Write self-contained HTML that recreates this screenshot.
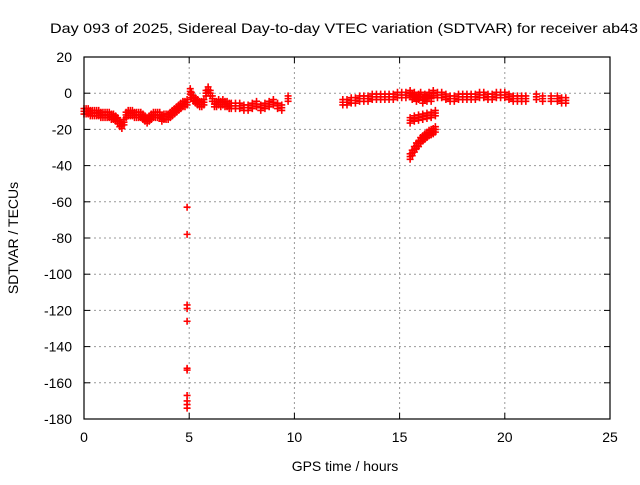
<!DOCTYPE html>
<html><head><meta charset="utf-8"><style>
body{margin:0;background:#fff;width:640px;height:480px;overflow:hidden}
svg text{font-family:"Liberation Sans",sans-serif;font-size:14px;fill:#000}
</style></head><body>
<svg id="c" width="640" height="480">
<text x="50" y="33" textLength="588" lengthAdjust="spacingAndGlyphs">Day 093 of 2025, Sidereal Day-to-day VTEC variation (SDTVAR) for receiver ab43</text>
<text x="345" y="471" text-anchor="middle">GPS time / hours</text>
<text transform="translate(18,238) rotate(-90)" text-anchor="middle">SDTVAR / TECUs</text>
<g id="grid"></g><g id="marks"></g>
<rect x="84" y="57" width="526" height="362" fill="none" stroke="#000" stroke-width="1.2"/>
</svg>
<script>
const xTicks=[0,5,10,15,20,25];
const yTicks=[20,0,-20,-40,-60,-80,-100,-120,-140,-160,-180];
const times=[0,0.1,0.2,0.3,0.4,0.5,0.6,0.7,0.8,0.9,1.0,1.1,1.2,1.3,1.4,1.5,1.6,1.7,1.8,1.9,2.0,2.1,2.2,2.3,2.4,2.5,2.6,2.7,2.8,2.9,3.0,3.1,3.2,3.3,3.4,3.5,3.6,3.7,3.8,3.9,4.0,4.1,4.2,4.3,4.4,4.5,4.6,4.7,4.8,4.9,
5.05,5.1,5.2,5.3,5.4,5.5,5.6,5.7,5.8,5.9,6.0,6.1,6.2,6.3,6.4,6.5,6.6,6.7,6.8,6.9,7.0,7.2,7.4,7.6,7.8,8.0,8.2,8.4,8.6,8.8,9.0,9.2,9.4,9.7,
12.3,12.5,12.7,12.9,13.1,13.3,13.5,13.7,13.9,14.1,14.3,14.5,14.7,14.9,15.1,15.3,
15.5,15.6,15.7,15.8,15.9,16.0,16.1,16.2,16.3,16.4,16.5,16.6,16.8,17.0,17.2,17.4,17.6,17.8,18.0,18.2,18.4,18.6,18.8,19.0,19.2,19.4,19.6,19.8,20.0,20.2,20.4,20.6,20.8,21.0,21.5,21.8,22.2,22.5,22.7,22.9,
15.5,15.7,15.9,16.1,16.3,16.5,16.7,
15.5,15.6,15.7,15.8,15.9,16.0,16.1,16.2,16.3,16.4,16.5,16.6,16.7,
4.9,4.9,4.9,4.9,4.9,4.9,4.9,4.9,4.9,4.9,4.9];
const values=[-10,-10,-10,-11,-11,-11,-11,-11,-12,-12,-12,-12,-12,-13,-13,-14,-15,-17,-18,-16,-12,-11,-11,-11,-12,-12,-12,-12,-13,-14,-15,-14,-13,-12,-12,-12,-12,-14,-13,-13,-13,-12,-11,-10,-9,-8,-7,-6,-6,-5,
1,-1,-3,-4,-5,-6,-6,-5,0,2,0,-3,-6,-6,-5,-6,-5,-6,-6,-7,-7,-7,-7,-8,-8,-7,-6,-8,-7,-6,-5,-7,-8,-3,
-5,-5,-4,-4,-3,-3,-3,-2,-2,-2,-2,-2,-2,-1,-1,-1,
0,-2,-1,-3,-2,-1,-4,-2,-3,-1,-3,0,-1,-1,-2,-3,-3,-2,-2,-2,-2,-2,-1,-1,-2,-2,-1,-1,-1,-2,-3,-3,-3,-3,-2,-3,-3,-3,-4,-4,
-15,-14,-13.5,-13,-12.5,-12,-11,
-35,-33,-31,-29,-28,-26,-25,-24,-23,-22,-21.5,-21,-20,
-63,-78,-117,-119,-126,-152,-153,-167,-170,-172,-174];
const NS='http://www.w3.org/2000/svg';
const X0=84,X1=610,Y0=419,Y1=57;
const xs=t=>X0+(t-0)/(25-0)*(X1-X0);
const ys=v=>Y0-(v+180)/(200)*(Y0-Y1);
const grid=document.getElementById('grid'),marks=document.getElementById('marks');
function mk(tag,a,parent){const e=document.createElementNS(NS,tag);for(const k in a)e.setAttribute(k,a[k]);parent.appendChild(e);return e;}
xTicks.forEach(t=>{const x=xs(t);
 if(t>0&&t<25){const g=mk('line',{x1:x,x2:x,y1:Y1,y2:Y0,stroke:'#999','stroke-dasharray':'2,3'},grid);
 
 }
 mk('line',{x1:x,x2:x,y1:Y0,y2:Y0-6,stroke:'#000'},grid);mk('line',{x1:x,x2:x,y1:Y1,y2:Y1+6,stroke:'#000'},grid);
 const l=mk('text',{x:x,y:Y0+23,'text-anchor':'middle'},grid);l.textContent=t;
 
 });
yTicks.forEach(v=>{const y=ys(v);
 if(v>-180&&v<20){const g=mk('line',{x1:X0,x2:X1,y1:y,y2:y,stroke:'#999','stroke-dasharray':'2,3'},grid);
 
 }
 mk('line',{x1:X0,x2:X0+6,y1:y,y2:y,stroke:'#000'},grid);mk('line',{x1:X1,x2:X1-6,y1:y,y2:y,stroke:'#000'},grid);
 const l=mk('text',{x:X0-12,y:y+5,'text-anchor':'end'},grid);l.textContent=v;
 
 });
times.forEach((t,i)=>{const x=xs(t),v=values[i];
 const offs=(v<-40)?[0]:[-1.5,0,1.5];
 offs.forEach(o=>{const y=ys(v+o);
 const p=mk('path',{d:`M${x-3.5},${y}h7M${x},${y-3.5}v7`,stroke:'#f00','stroke-width':1.6,fill:'none'},marks);
 
 });});
</script>
</body></html>
